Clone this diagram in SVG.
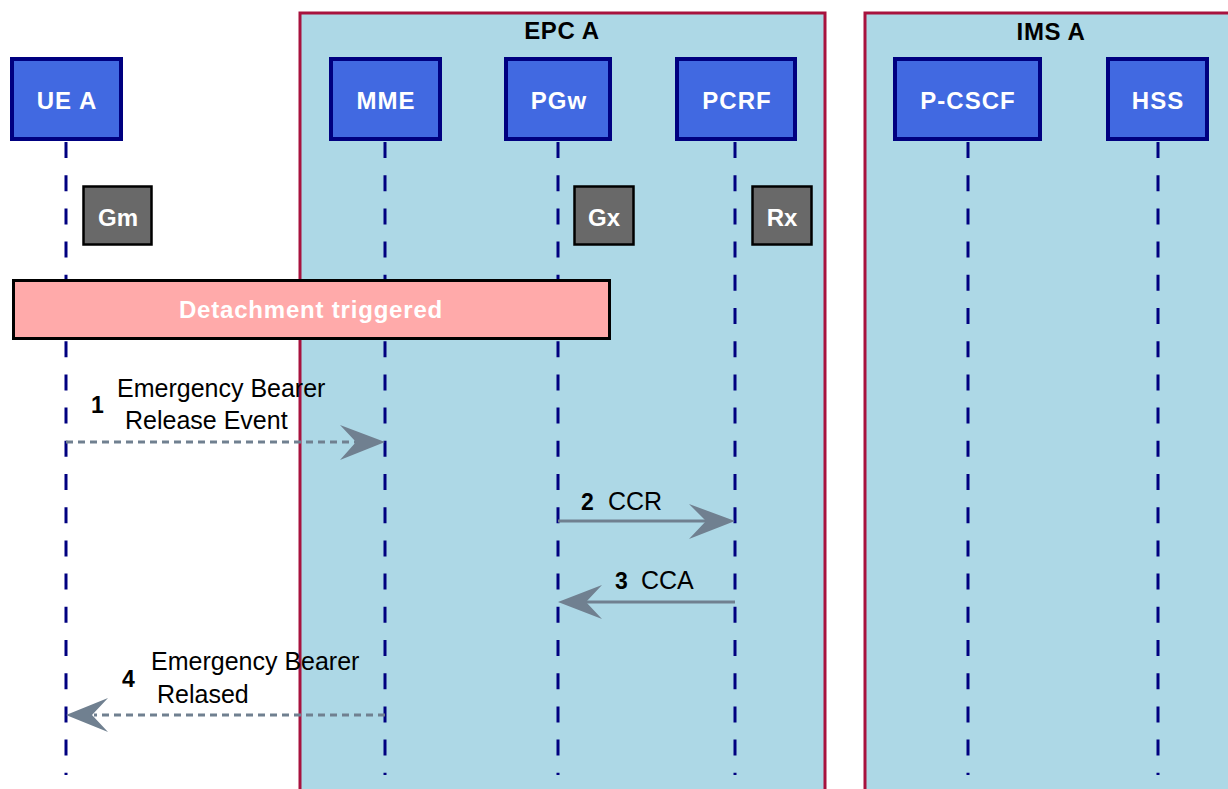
<svg xmlns="http://www.w3.org/2000/svg" width="1228" height="789" viewBox="0 0 1228 789">
  <style>
    .group { fill: #ADD8E6; stroke: #A8123E; stroke-width: 3; }
    .group-title { font-family: "Liberation Sans", Arial, sans-serif; font-weight: bold; font-size: 24px; fill: #000; text-anchor: middle; letter-spacing: 0.6px; }
    .actor { fill: #4169E1; stroke: #000080; stroke-width: 4; }
    .actor-label { font-family: "Liberation Sans", Arial, sans-serif; font-weight: bold; font-size: 24px; fill: #fff; text-anchor: middle; letter-spacing: 1px; }
    .lifeline { stroke: #000080; stroke-width: 3; stroke-dasharray: 16 17.2; fill: none; }
    .iface { fill: #696969; stroke: #000; stroke-width: 2.5; }
    .iface-label { font-family: "Liberation Sans", Arial, sans-serif; font-weight: bold; font-size: 24px; fill: #fff; text-anchor: middle; }
    .note { fill: #FFAAAA; stroke: #000; stroke-width: 3; }
    .note-label { font-family: "Liberation Sans", Arial, sans-serif; font-weight: bold; font-size: 24px; fill: #fff; text-anchor: middle; letter-spacing: 0.8px; }
    .msg { stroke: #708090; stroke-width: 3; fill: none; }
    .msg.async { stroke-dasharray: 7 5; }
    .head { fill: #708090; stroke: none; }
    .num { font-family: "Liberation Sans", Arial, sans-serif; font-weight: bold; font-size: 23px; fill: #000; }
    .lbl { font-family: "Liberation Sans", Arial, sans-serif; font-size: 25px; fill: #000; }
  </style>

  <!-- network domains -->
  <g id="epc-a">
    <rect class="group" x="300" y="13" width="525" height="790"/>
    <text class="group-title" x="562" y="39">EPC A</text>
  </g>
  <g id="ims-a">
    <rect class="group" x="865" y="13" width="380" height="790"/>
    <text class="group-title" x="1051" y="40">IMS A</text>
  </g>

  <!-- lifelines -->
  <g id="lifelines">
    <line class="lifeline" x1="66" y1="142" x2="66" y2="775"/>
    <line class="lifeline" x1="385" y1="142" x2="385" y2="775"/>
    <line class="lifeline" x1="558" y1="142" x2="558" y2="775"/>
    <line class="lifeline" x1="735" y1="142" x2="735" y2="775"/>
    <line class="lifeline" x1="968" y1="142" x2="968" y2="775"/>
    <line class="lifeline" x1="1158" y1="142" x2="1158" y2="775"/>
  </g>

  <!-- participants -->
  <g id="ue-a">
    <rect class="actor" x="12" y="59" width="109" height="80"/>
    <text class="actor-label" x="67" y="109">UE A</text>
  </g>
  <g id="mme">
    <rect class="actor" x="331" y="59" width="109" height="80"/>
    <text class="actor-label" x="386" y="109">MME</text>
  </g>
  <g id="pgw">
    <rect class="actor" x="506" y="59" width="104" height="80"/>
    <text class="actor-label" x="559" y="109">PGw</text>
  </g>
  <g id="pcrf">
    <rect class="actor" x="677" y="59" width="118" height="80"/>
    <text class="actor-label" x="737" y="109">PCRF</text>
  </g>
  <g id="p-cscf">
    <rect class="actor" x="895" y="59" width="145" height="80"/>
    <text class="actor-label" x="968" y="109">P-CSCF</text>
  </g>
  <g id="hss">
    <rect class="actor" x="1108" y="59" width="99" height="80"/>
    <text class="actor-label" x="1158" y="109">HSS</text>
  </g>

  <!-- interface tags -->
  <g id="if-gm">
    <rect class="iface" x="83.5" y="186.5" width="68" height="58"/>
    <text class="iface-label" x="118" y="226">Gm</text>
  </g>
  <g id="if-gx">
    <rect class="iface" x="574.5" y="186.5" width="59" height="58"/>
    <text class="iface-label" x="604" y="226">Gx</text>
  </g>
  <g id="if-rx">
    <rect class="iface" x="752.5" y="186.5" width="59" height="58"/>
    <text class="iface-label" x="782" y="226">Rx</text>
  </g>

  <!-- detachment note -->
  <g id="note-detachment">
    <rect class="note" x="13.5" y="280.5" width="596" height="58"/>
    <text class="note-label" x="311" y="318">Detachment triggered</text>
  </g>

  <!-- messages -->
  <g id="messages">
    <!-- 1: UE A -> MME -->
    <line class="msg async" x1="66" y1="442" x2="356" y2="442"/>
    <path class="head" d="M385,442 L340,425 L356,442 L340,460 Z"/>
    <text class="num" x="91" y="413">1</text>
    <text class="lbl" x="117" y="397">Emergency Bearer</text>
    <text class="lbl" x="125" y="429">Release Event</text>

    <!-- 2: PGw -> PCRF -->
    <line class="msg" x1="558" y1="521" x2="708" y2="521"/>
    <path class="head" d="M735,521 L689,504 L706,521 L689,539 Z"/>
    <text class="num" x="581" y="510">2</text>
    <text class="lbl" x="608" y="510">CCR</text>

    <!-- 3: PCRF -> PGw -->
    <line class="msg" x1="735" y1="602" x2="586" y2="602"/>
    <path class="head" d="M558,602 L602,585 L586,602 L602,619 Z"/>
    <text class="num" x="615" y="589">3</text>
    <text class="lbl" x="641" y="589">CCA</text>

    <!-- 4: MME -> UE A -->
    <line class="msg async" x1="385" y1="715" x2="94" y2="715"/>
    <path class="head" d="M66,715 L108,698 L92,715 L108,732 Z"/>
    <text class="num" x="122" y="687">4</text>
    <text class="lbl" x="151" y="670">Emergency Bearer</text>
    <text class="lbl" x="157" y="703">Relased</text>
  </g>
</svg>
